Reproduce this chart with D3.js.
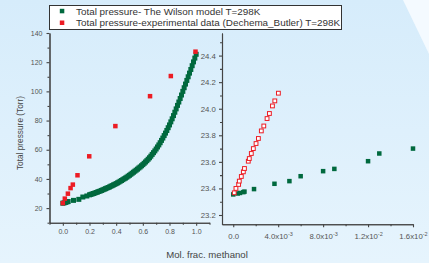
<html>
<head>
  <script src="https://d3js.org/d3.v7.min.js"></script>
  <style>
    body { margin: 0; }
    text { font-family: "Liberation Sans", Arial, sans-serif; }
    .axis .domain, .axis line { stroke: #444; stroke-width: 1.1; }
    .axis text { fill: #555; font-size: 7px; font-family: "Liberation Sans", Arial, sans-serif; }
    .inset text { font-size: 7.8px; }
  </style>
</head>
<body>
  <svg id="chart" width=429 height=263></svg>
  <script>
    // Wilson model, main plot (mol frac methanol, total pressure Torr)
    const modelX = [0, 0.01, 0.02, 0.03, 0.04, 0.08, 0.12, 0.15, 0.18,
      0.20, 0.21, 0.22, 0.23, 0.24, 0.25, 0.26, 0.27, 0.28, 0.29,
      0.30, 0.31, 0.32, 0.33, 0.34, 0.35, 0.36, 0.37, 0.38, 0.39,
      0.40, 0.41, 0.42, 0.43, 0.44, 0.45, 0.46, 0.47, 0.48, 0.49,
      0.50, 0.51, 0.52, 0.53, 0.54, 0.55, 0.56, 0.57, 0.58, 0.59,
      0.60, 0.61, 0.62, 0.63, 0.64, 0.65, 0.66, 0.67, 0.68, 0.69,
      0.70, 0.71, 0.72, 0.73, 0.74, 0.75, 0.76, 0.77, 0.78, 0.79,
      0.80, 0.81, 0.82, 0.83, 0.84, 0.85, 0.86, 0.87, 0.88, 0.89,
      0.90, 0.91, 0.92, 0.93, 0.94, 0.95, 0.96, 0.97, 0.98, 0.99, 1.00];
    const modelP = [23.36, 23.6, 23.9, 24.2, 24.5, 25.3, 26.0, 27.6, 28.3,
      29.1, 29.4, 29.7, 30.0, 30.3, 30.7, 31.0, 31.4, 31.7, 32.1,
      32.5, 32.9, 33.3, 33.7, 34.1, 34.5, 35.0, 35.4, 35.9, 36.3,
      36.8, 37.3, 37.8, 38.4, 38.9, 39.5, 40.1, 40.6, 41.2, 41.9,
      42.5, 43.2, 43.9, 44.6, 45.3, 46.0, 46.7, 47.5, 48.2, 49.0,
      49.8, 50.7, 51.6, 52.5, 53.5, 54.5, 55.6, 56.8, 58.0, 59.2,
      60.5, 61.9, 63.3, 64.8, 66.4, 68.0, 69.7, 71.4, 73.2, 75.1,
      77.0, 79.1, 81.2, 83.4, 85.7, 88.0, 90.4, 92.7, 95.1, 97.5,
      100.0, 102.5, 105.0, 107.5, 110.0, 112.5, 115.0, 117.6, 120.2, 122.8, 125.4];

    // experimental data (Dechema_Butler), main plot
    const expX = [0.0, 0.015, 0.038, 0.058, 0.075, 0.11, 0.198, 0.394, 0.654, 0.81, 0.995];
    const expP = [23.4, 26.5, 29.9, 33.7, 36.1, 42.5, 55.5, 76.2, 96.7, 110.5, 127.2];

    // inset (dilute region)
    const insetModelX = [0, 0.0004, 0.0006, 0.0009, 0.001, 0.00185, 0.00367, 0.005, 0.006, 0.008, 0.009, 0.012, 0.013, 0.016];
    const insetModelP = [23.355, 23.362, 23.366, 23.372, 23.376, 23.395, 23.435, 23.455, 23.492, 23.53, 23.547, 23.605, 23.663, 23.70];
    const insetExpX = [0.00009, 0.00024, 0.00048, 0.00054, 0.00072, 0.0009, 0.001, 0.00134, 0.00143, 0.00161,
      0.00179, 0.00203, 0.00224, 0.0025, 0.00272, 0.00301, 0.00322, 0.00349, 0.0037, 0.00402];
    const insetExpP = [23.367, 23.40, 23.43, 23.455, 23.49, 23.525, 23.55, 23.605, 23.625, 23.663,
      23.70, 23.738, 23.776, 23.833, 23.87, 23.926, 23.964, 24.021, 24.059, 24.117];

    // ticks
    const mainXTicks = [0, 0.2, 0.4, 0.6, 0.8, 1.0];
    const mainXMinor = [-0.1, 0.1, 0.3, 0.5, 0.7, 0.9, 1.1];
    const mainYTicks = [20, 40, 60, 80, 100, 120, 140];
    const mainYMinor = [10, 30, 50, 70, 90, 110, 130];
    const insetXTicks = [0, 0.004, 0.008, 0.012, 0.016];
    const insetXMinor = [0.002, 0.006, 0.010, 0.014];
    const insetXLabels = [["0.0", ""], ["4.0x10", "-3"], ["8.0x10", "-3"], ["1.2x10", "-2"], ["1.6x10", "-2"]];
    const insetYTicks = [23.2, 23.4, 23.6, 23.8, 24.0, 24.2, 24.4];
    const insetYMinor = [23.3, 23.5, 23.7, 23.9, 24.1, 24.3, 24.5];

    const legendLabels = ["Total pressure- The Wilson model T=298K",
      "Total pressure-experimental data (Dechema_Butler) T=298K"];

    const green = "#00693e";
    const red = "#ec1c24";

    let svg = d3.select("svg#chart");

    // background
    let grad = svg.append("defs").append("linearGradient")
      .attr("id", "bg").attr("x1", 0).attr("y1", 0).attr("x2", 0).attr("y2", 1);
    grad.append("stop").attr("offset", "0%").attr("stop-color", "#d6ecfb");
    grad.append("stop").attr("offset", "100%").attr("stop-color", "#e6f4fd");
    svg.append("rect").attr("width", 429).attr("height", 263).attr("fill", "url(#bg)");
    svg.append("polygon").attr("points", "403,0 429,0 429,54").attr("fill", "#f4faff");

    // main scales
    const x = d3.scaleLinear().domain([-0.1, 1.1]).range([49.5, 209.5]);
    const y = d3.scaleLinear().domain([10, 140]).range([222.7, 33]);

    // inset scales
    const xi = d3.scaleLinear().domain([-0.001, 0.016]).range([222, 413]);
    const yi = d3.scaleLinear().domain([23.13, 24.57]).range([224.3, 33]);

    // main axes
    svg.append("g").attr("class", "axis")
      .attr("transform", "translate(0,222.7)")
      .call(d3.axisBottom(x).tickValues(mainXMinor).tickFormat("").tickSize(2).tickSizeOuter(0));
    svg.append("g").attr("class", "axis")
      .attr("transform", "translate(0,222.7)")
      .call(d3.axisBottom(x).tickValues(mainXTicks).tickFormat(d3.format(".1f")).tickSize(3).tickPadding(3.5).tickSizeOuter(0));
    svg.append("g").attr("class", "axis")
      .attr("transform", "translate(49.5,0)")
      .call(d3.axisLeft(y).tickValues(mainYMinor).tickFormat("").tickSize(2).tickSizeOuter(0));
    svg.append("g").attr("class", "axis")
      .attr("transform", "translate(49.5,0)")
      .call(d3.axisLeft(y).tickValues(mainYTicks).tickSize(3).tickPadding(4).tickSizeOuter(0));

    // inset axes
    svg.append("g").attr("class", "axis inset")
      .attr("transform", "translate(0,224.3)")
      .call(d3.axisBottom(xi).tickValues(insetXMinor).tickFormat("").tickSize(2).tickSizeOuter(0));
    let ixAxis = svg.append("g").attr("class", "axis inset")
      .attr("transform", "translate(0,224.3)")
      .call(d3.axisBottom(xi).tickValues(insetXTicks).tickFormat("").tickSize(3).tickSizeOuter(0));
    ixAxis.selectAll(".tick").append("text")
      .attr("y", 15.2)
      .attr("text-anchor", "middle")
      .each(function (d, i) {
        let t = d3.select(this);
        t.append("tspan").text(insetXLabels[i][0]);
        if (insetXLabels[i][1]) {
          t.append("tspan").attr("dy", -3.2).style("font-size", "5.5px").text(insetXLabels[i][1]);
        }
      });
    svg.append("g").attr("class", "axis inset")
      .attr("transform", "translate(222,0)")
      .call(d3.axisLeft(yi).tickValues(insetYMinor).tickFormat("").tickSize(2).tickSizeOuter(0));
    svg.append("g").attr("class", "axis inset")
      .attr("transform", "translate(222,0)")
      .call(d3.axisLeft(yi).tickValues(insetYTicks).tickFormat(d3.format(".1f")).tickSize(3).tickPadding(3.2).tickSizeOuter(0));

    // main marks
    let main = svg.append("g");
    main.selectAll("rect.model").data(modelX)
      .join("rect").attr("class", "model")
      .attr("x", (d) => x(d) - 2.5)
      .attr("y", (d, i) => y(modelP[i]) - 2.5)
      .attr("width", 5).attr("height", 5)
      .attr("fill", green);
    main.selectAll("rect.exp").data(expX)
      .join("rect").attr("class", "exp")
      .attr("x", (d) => x(d) - 2.25)
      .attr("y", (d, i) => y(expP[i]) - 2.25)
      .attr("width", 4.5).attr("height", 4.5)
      .attr("fill", red);

    // inset marks
    let inset = svg.append("g");
    inset.selectAll("rect.model").data(insetModelX)
      .join("rect").attr("class", "model")
      .attr("x", (d) => xi(d) - 2.25)
      .attr("y", (d, i) => yi(insetModelP[i]) - 2.25)
      .attr("width", 4.5).attr("height", 4.5)
      .attr("fill", green);
    inset.selectAll("rect.exp").data(insetExpX)
      .join("rect").attr("class", "exp")
      .attr("x", (d) => xi(d) - 1.9)
      .attr("y", (d, i) => yi(insetExpP[i]) - 1.9)
      .attr("width", 3.8).attr("height", 3.8)
      .attr("fill", "white")
      .attr("stroke", red)
      .attr("stroke-width", 1);

    // axis titles
    svg.append("text")
      .attr("x", 207).attr("y", 258)
      .attr("text-anchor", "middle")
      .style("font-size", "9.6px").style("fill", "#444")
      .text("Mol. frac. methanol");
    svg.append("text")
      .attr("transform", "translate(23,133) rotate(-90)")
      .attr("text-anchor", "middle")
      .style("font-size", "8.3px").style("fill", "#444")
      .text("Total pressure (Torr)");

    // legend
    let legend = svg.append("g");
    legend.append("rect")
      .attr("x", 49.5).attr("y", 5.5).attr("width", 292).attr("height", 24)
      .attr("fill", "white").attr("stroke", "#333").attr("stroke-width", 1);
    [green, red].forEach((c, i) => {
      legend.append("rect")
        .attr("x", 59.8).attr("y", 8.8 + 11.7 * i)
        .attr("width", 4.5).attr("height", 4.5)
        .attr("fill", c);
      legend.append("text")
        .attr("x", 76).attr("y", 14.5 + 11.7 * i)
        .style("font-size", "9.9px").style("fill", "#333")
        .text(legendLabels[i]);
    });
  </script>
</body>
</html>
